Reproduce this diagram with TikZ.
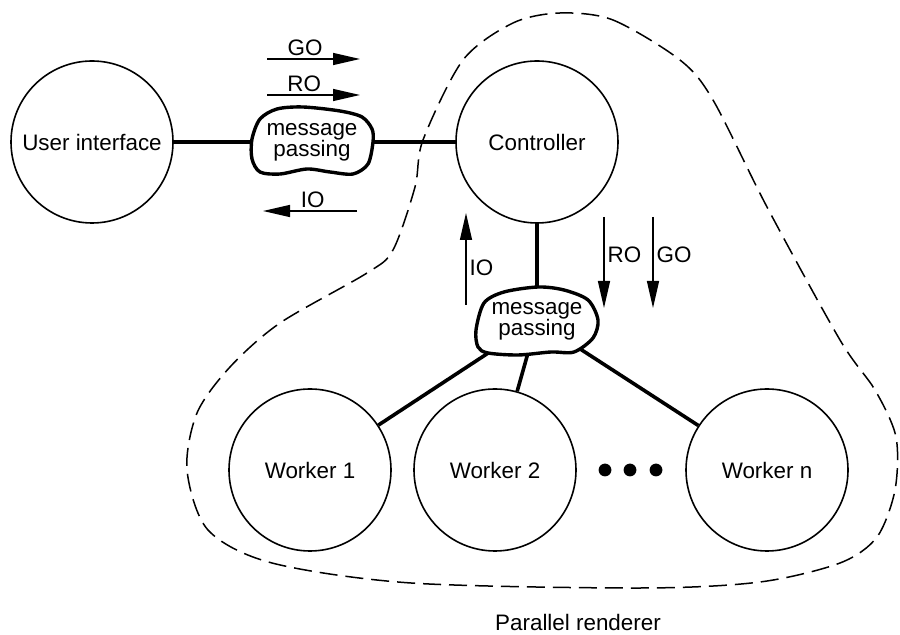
\documentclass[tikz,border=0pt]{standalone}
\usepackage{fontspec}
\setmainfont{Liberation Sans}
\usetikzlibrary{arrows.meta,backgrounds}

\tikzset{
  proc/.style={circle, draw, line width=0.8pt, minimum size=81pt, inner sep=0pt},
  link/.style={line width=1.8pt},
  blob/.style={line width=1.7pt, fill=white},
  flow/.style={line width=0.7pt, -{Triangle[length=13.5pt,width=6pt]}},
  lbl/.style={inner sep=1.5pt},
  region/.style={line width=0.75pt, dash pattern=on 9pt off 4pt},
}

\begin{document}
\begin{tikzpicture}[x=0.5pt, y=-0.5pt, font=\fontsize{11.2}{10.5}\selectfont]
  \useasboundingbox (0,0) rectangle (900,635);

  \node[proc] (ui) at (92,142) {User interface};
  \node (mp1) [right of=ui, node distance=110pt, align=center] {message\\passing};
  \node[proc] (ctrl) [right of=mp1, node distance=112.5pt] {Controller};
  \node (mp2) [below of=ctrl, node distance=89.5pt, align=center] {message\\passing};
  \node[proc] (w1) at (310,470) {Worker 1};
  \node[proc] (w2) [right of=w1, node distance=92.5pt] {Worker 2};
  \node[proc] (wn) [right of=w2, node distance=136pt] {Worker n};
  \foreach \x in {605,630,656}
    \fill (\x,470) circle (3.2pt);
  \node (title) at (578,622) {Parallel renderer};

  % links and message blobs, behind the texts
  \begin{scope}[on background layer]
    \draw[link] (ui) -- (mp1.center);
    \draw[link] (mp1.center) -- (ctrl);
    \draw[link] (ctrl) -- (mp2.center);
    \draw[link] (mp2.center) -- (w1);
    \draw[link] (mp2.center) -- (w2);
    \draw[link] (mp2.center) -- (wn);
    \draw[blob, shift={(mp1.center)}] plot[smooth cycle] coordinates
      {(-60,-3) (-52,-23) (-35,-33) (-9,-35) (28,-31) (50,-25) (60,-13) (61,0)
       (56,22) (41,32) (18,30) (-5,27) (-32,32) (-52,30) (-60,17)};
    \draw[blob, shift={(mp2.center)}] plot[smooth cycle] coordinates
      {(-61,9) (-53,-18) (-33,-29) (1,-34) (27,-31) (51,-21) (61,-1) (56,17)
       (37,31) (14,31) (-19,34) (-49,32) (-59,26)};
  \end{scope}

  % message flows
  \coordinate (goA) at (267,59);
  \coordinate (goB) at (360,59);
  \coordinate (roA) at (267,95);
  \coordinate (roB) at (360,95);
  \coordinate (ioA) at (357,211);
  \coordinate (ioB) at (263,211);
  \coordinate (ioC) at (466,305);
  \coordinate (ioD) at (466,213);
  \coordinate (roC) at (604,217);
  \coordinate (roD) at (604,308);
  \coordinate (goC) at (653,217);
  \coordinate (goD) at (653,308);
  \draw[flow] (goA) -- node[lbl, above, pos=0.41] (golbl) {GO} (goB);
  \draw[flow] (roA) -- node[lbl, above, pos=0.40] (rolbl) {RO} (roB);
  \draw[flow] (ioA) -- node[lbl, above, pos=0.47] (iolbl) {IO} (ioB);
  \draw[flow] (ioC) -- node[lbl, right, pos=0.40] (iolbl2) {IO} (ioD);
  \draw[flow] (roC) -- node[lbl, right, pos=0.42] (rolbl2) {RO} (roD);
  \draw[flow] (goC) -- node[lbl, right, pos=0.42] (golbl2) {GO} (goD);

  % parallel renderer outline
  \draw[region] plot[smooth cycle] coordinates
    {(560,13) (613,20) (680,60) (713,100) (767,207) (840,340) (875,390)
     (896,437) (895,490) (877,537) (840,563) (760,582) (642,588) (411,583)
     (272,563) (208,530) (187,470) (197,413) (230,367) (280,323) (367,273)
     (393,250) (415,187) (423,140) (463,60) (513,23)};
\end{tikzpicture}
\end{document}
